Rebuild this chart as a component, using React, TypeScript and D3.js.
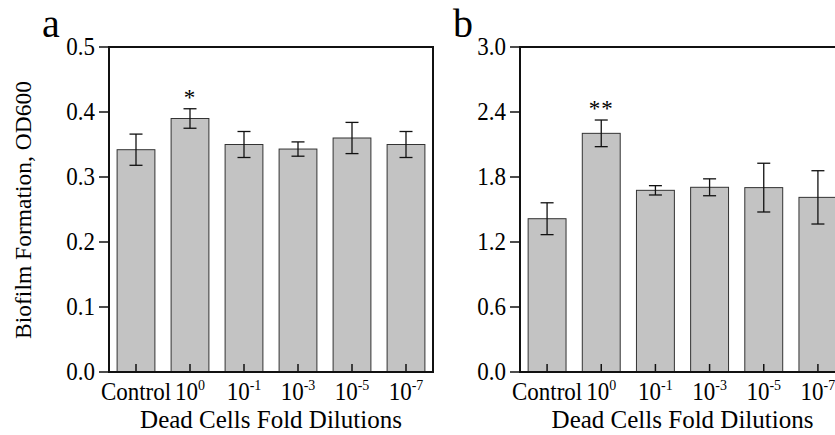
import React from "react";
import * as d3 from "d3";

const categories = ["Control", "10^0", "10^-1", "10^-3", "10^-5", "10^-7"];
const valuesA = [0.342, 0.39, 0.35, 0.343, 0.36, 0.35];
const errorsA = [0.024, 0.015, 0.02, 0.011, 0.024, 0.02];
const valuesB = [1.415, 2.203, 1.677, 1.705, 1.702, 1.612];
const errorsB = [0.147, 0.123, 0.043, 0.078, 0.225, 0.246];
const ticksA = [0, 0.1, 0.2, 0.3, 0.4, 0.5];
const ticksB = [0, 0.6, 1.2, 1.8, 2.4, 3.0];
const starsA = ["", "*", "", "", "", ""];
const starsB = ["", "**", "", "", "", ""];

const FONT = "'Liberation Serif', 'DejaVu Serif', serif";
const SY = 1.1;

function Label({ cat, x, y }: { cat: string; x: number; y: number }) {
  const t = `translate(${x},${y}) scale(1,${SY})`;
  if (cat.startsWith("10^")) {
    const exp = cat.slice(3);
    return (
      <text transform={t} textAnchor="middle" fontFamily={FONT} fontSize={23}>
        10
        <tspan fontSize={14} dy={-9}>{exp}</tspan>
      </text>
    );
  }
  return (
    <text transform={t} textAnchor="middle" fontFamily={FONT} fontSize={23}>
      {cat}
    </text>
  );
}

function Panel({
  left, right, values, errors, ticks, yMax, stars, letter, frameRight,
}: {
  left: number; right: number; values: number[]; errors: number[]; ticks: number[];
  yMax: number; stars: string[]; letter: string; frameRight: boolean;
}) {
  const top = 47, bottom = 372;
  const x = d3.scaleBand<string>().domain(categories).range([left, right]).paddingInner(0.3).paddingOuter(0.15);
  const y = d3.scaleLinear().domain([0, yMax]).range([bottom, top]);
  const bw = x.bandwidth();
  const fmt = d3.format(".1f");
  return (
    <g>
      {categories.map((c, i) => (
        <rect key={c} x={x(c)!} y={y(values[i])} width={bw} height={bottom - y(values[i])}
          fill="#c3c3c3" stroke="#333" strokeWidth={1} />
      ))}
      {categories.map((c, i) => {
        const cx = x(c)! + bw / 2;
        const hi = y(values[i] + errors[i]);
        const lo = y(values[i] - errors[i]);
        return (
          <g key={"e" + c} stroke="#111" strokeWidth={1.3}>
            <line x1={cx} x2={cx} y1={hi} y2={lo} />
            <line x1={cx - 6.5} x2={cx + 6.5} y1={hi} y2={hi} />
            <line x1={cx - 6.5} x2={cx + 6.5} y1={lo} y2={lo} />
          </g>
        );
      })}
      {categories.map((c, i) =>
        stars[i] ? (
          <text key={"s" + c} x={x(c)! + bw / 2} y={y(values[i] + errors[i]) - 4} textAnchor="middle"
            fontFamily={FONT} fontSize={23} letterSpacing={1}>
            {stars[i]}
          </text>
        ) : null
      )}
      {categories.map((c) => (
        <line key={"t" + c} x1={x(c)! + bw / 2} x2={x(c)! + bw / 2} y1={bottom} y2={bottom - 8}
          stroke="#111" strokeWidth={1.5} />
      ))}
      <line x1={left} x2={left} y1={top} y2={bottom} stroke="#111" strokeWidth={2} />
      <line x1={left - 1} x2={right + (frameRight ? 1 : 0)} y1={bottom} y2={bottom} stroke="#111" strokeWidth={2} />
      <line x1={left - 1} x2={right + (frameRight ? 1 : 0)} y1={top} y2={top} stroke="#111" strokeWidth={2} />
      {frameRight && <line x1={right} x2={right} y1={top} y2={bottom} stroke="#111" strokeWidth={2} />}
      {ticks.map((t) => (
        <g key={"y" + t}>
          <line x1={left - 10} x2={left} y1={y(t)} y2={y(t)} stroke="#111" strokeWidth={1.5} />
          <text transform={`translate(${left - 14},${y(t) + 7.5}) scale(1,${SY})`} textAnchor="end"
            fontFamily={FONT} fontSize={23}>
            {fmt(t)}
          </text>
        </g>
      ))}
      {categories.map((c) => (
        <Label key={"l" + c} cat={c} x={x(c)! + bw / 2} y={400} />
      ))}
      <text x={(left + right) / 2} y={428} textAnchor="middle" fontFamily={FONT} fontSize={25}>
        Dead Cells Fold Dilutions
      </text>
      <text x={left - 67} y={37} fontFamily={FONT} fontSize={40}>
        {letter}
      </text>
    </g>
  );
}

export default function App() {
  return (
    <div style={{ position: "fixed", left: 0, top: 0 }}>
      <svg width={835} height={435} style={{ display: "block", background: "#fff" }}>
        <Panel left={109} right={433} values={valuesA} errors={errorsA} ticks={ticksA} yMax={0.5}
          stars={starsA} letter="a" frameRight={true} />
        <Panel left={520} right={845} values={valuesB} errors={errorsB} ticks={ticksB} yMax={3.0}
          stars={starsB} letter="b" frameRight={false} />
        <text transform={`translate(31,210) rotate(-90)`} textAnchor="middle" fontFamily={FONT} fontSize={23.5}>
          Biofilm Formation, OD600
        </text>
      </svg>
    </div>
  );
}
